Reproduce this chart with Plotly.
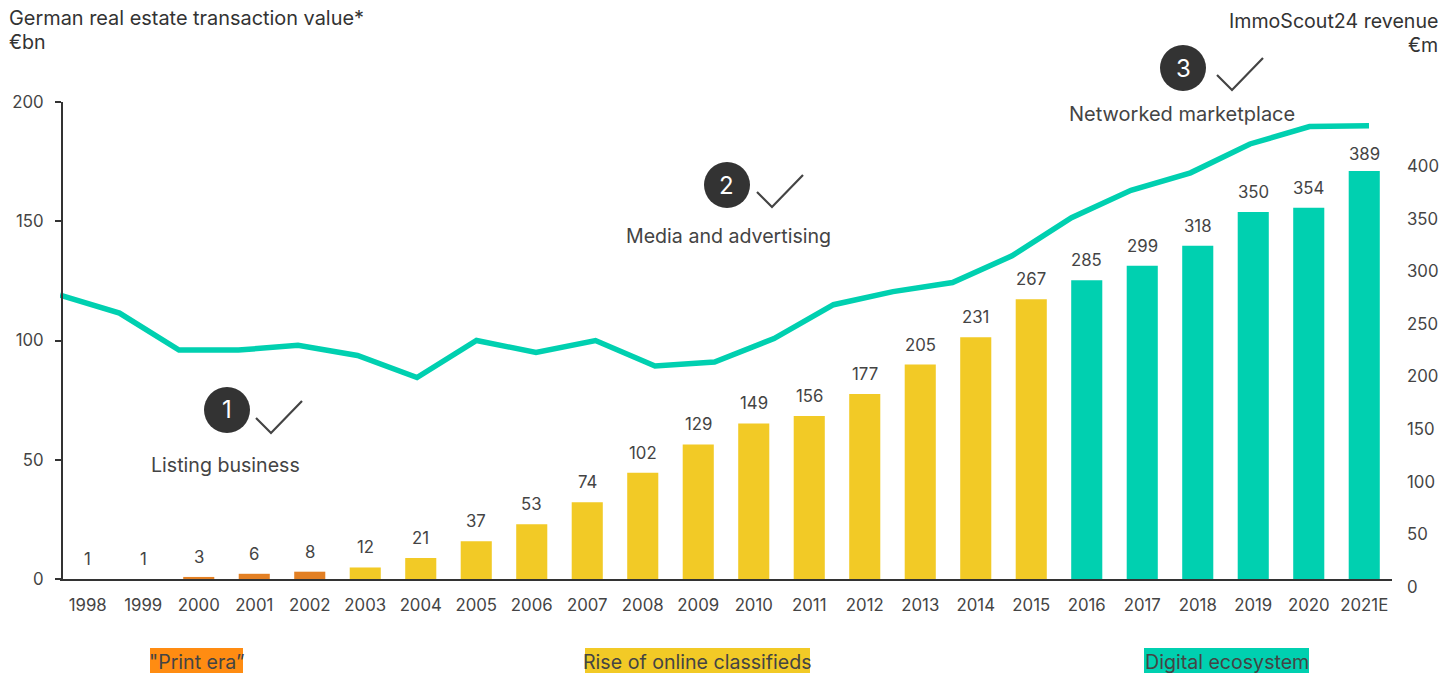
import plotly.graph_objects as go

years = [str(y) for y in range(1998, 2021)] + ["2021E"]
revenue = [1, 1, 3, 6, 8, 12, 21, 37, 53, 74, 102, 129, 149, 156, 177, 205, 231, 267, 285, 299, 318, 350, 354, 389]
bar_colors = ["#E38024"] * 5 + ["#F2CA26"] * 13 + ["#00D0B0"] * 6
transaction_years = list(range(1998, 2021))
transaction_value = [119, 111.5, 96, 96, 98, 93.7, 84.5, 100, 95, 100, 89.3, 91, 100.8, 115, 120.5, 124.3, 135.5, 151.5, 163, 170.3, 182.4, 189.7, 190]
left_ticks = [0, 50, 100, 150, 200]
right_ticks = [0, 50, 100, 150, 200, 250, 300, 350, 400]

TEAL = "#00D0B0"
INK = "#444444"
FONT = "Inter"
SIZE = 16.8
TEXT_SIZE = 19.6

L, R, T, B = 60, 1392, 102, 600
W, H = 1440, 673
BAR_BASE = 1.05
BAR_SCALE = 1.0517


def px(x):
    return (x - L) / (R - L)


def py(y):
    return (B - y) / (B - T)


fig = go.Figure()
fig.add_trace(go.Bar(x=years, y=revenue, xaxis="x", yaxis="y2", marker=dict(color=bar_colors, line_width=0), width=0.56, hoverinfo="skip"))
fig.add_trace(go.Scatter(x=transaction_years, y=transaction_value, xaxis="x2", yaxis="y", mode="lines", line=dict(color=TEAL, width=5.5), hoverinfo="skip"))
fig.add_trace(go.Scatter(x=[years[0]] * len(right_ticks), y=right_ticks, xaxis="x", yaxis="y3", mode="markers", marker=dict(opacity=0), hoverinfo="skip"))

annotations = []
for i, v in enumerate(revenue):
    shift = 5 if v == 389 else 8
    annotations.append(dict(x=i, y=py(579 - (v - BAR_BASE) * BAR_SCALE), xref="x", yref="paper", text=str(v), showarrow=False,
                            yanchor="bottom", yshift=shift, font=dict(family=FONT, size=SIZE, color=INK)))


def label(x, y, text, anchor="center", color=INK, size=TEXT_SIZE):
    annotations.append(dict(x=px(x), y=py(y), xref="paper", yref="paper", text=text, showarrow=False, xanchor=anchor,
                            yanchor="middle", font=dict(family=FONT, size=size, color=color), borderpad=0, borderwidth=0))


label(9, 18, "German real estate transaction value*", "left", "#333333", 19.9)
label(9, 42, "€bn", "left", "#333333")
label(1438, 21, "ImmoScout24 revenue", "right", "#333333")
label(1438, 45, "€m", "right", "#333333")
label(225, 465, "Listing business")
label(728, 236, "Media and advertising")
label(1182, 114, "Networked marketplace", size=20)

shapes = []
for n, (cx, cy, dx, dy) in enumerate([(227, 410, 29, 0), (727, 185, 30, -1), (1183, 68, 34, -1)], start=1):
    shapes.append(dict(type="circle", xref="paper", yref="paper", x0=px(cx - 23), x1=px(cx + 23), y0=py(cy + 23), y1=py(cy - 23),
                       fillcolor="#333333", line_width=0))
    label(cx, cy, str(n), color="white", size=24)
    shapes.append(dict(type="path", xref="paper", yref="paper",
                       path=f"M {px(cx + dx)} {py(cy + dy + 8)} L {px(cx + dx + 15)} {py(cy + dy + 23)} L {px(cx + dx + 46)} {py(cy + dy - 9)}",
                       line=dict(color=INK, width=2.2), fillcolor="rgba(0,0,0,0)"))

for x0, x1, color, text in [(150, 243, "#FF8C12", '"Print era”'), (585, 810, "#F2CA26", "Rise of online classifieds"), (1144, 1309, TEAL, "Digital ecosystem")]:
    shapes.append(dict(type="rect", xref="paper", yref="paper", x0=px(x0), x1=px(x1), y0=py(673), y1=py(648), fillcolor=color, line_width=0, layer="below"))
    label((x0 + x1) / 2, 662, text)

fig.update_layout(
    width=W, height=H,
    margin=dict(l=L, r=W - R, t=T, b=H - B, pad=0, autoexpand=False),
    paper_bgcolor="white", plot_bgcolor="rgba(0,0,0,0)", showlegend=False,
    font=dict(family=FONT, size=SIZE, color=INK),
    xaxis=dict(type="category", categoryorder="array", categoryarray=years, range=[-0.5, 23.5], anchor="y", showline=True,
               linecolor="#333333", linewidth=2, ticks="", showgrid=False, zeroline=False, ticklabelstandoff=10, tickangle=0,
               tickfont=dict(family=FONT, size=SIZE, color=INK)),
    xaxis2=dict(overlaying="x", range=[1998, 1998 + (R - L) / 59.5], visible=False, anchor="y"),
    yaxis=dict(domain=[py(579), 1], range=[0, 200], tickvals=left_ticks, ticks="outside", ticklen=6, tickwidth=2, tickcolor="#333333",
               showline=True, linecolor="#333333", linewidth=2, showgrid=False, zeroline=False, ticklabelstandoff=8,
               tickfont=dict(family=FONT, size=SIZE, color=INK), anchor="free", position=0.0015),
    yaxis2=dict(overlaying="y", side="right", range=[BAR_BASE, BAR_BASE + 477 / BAR_SCALE], visible=False, anchor="x"),
    yaxis3=dict(domain=[py(587), py(166)], range=[0, 400], tickvals=right_ticks, side="right", anchor="free", position=1, ticks="",
                showline=False, showgrid=False, zeroline=False, ticklabelstandoff=14,
                tickfont=dict(family=FONT, size=SIZE, color=INK)),
    annotations=annotations, shapes=shapes,
)
fig.write_html("out.html", config=dict(displayModeBar=False),
               post_script="document.body.style.margin='0';document.documentElement.style.overflow='hidden';")
